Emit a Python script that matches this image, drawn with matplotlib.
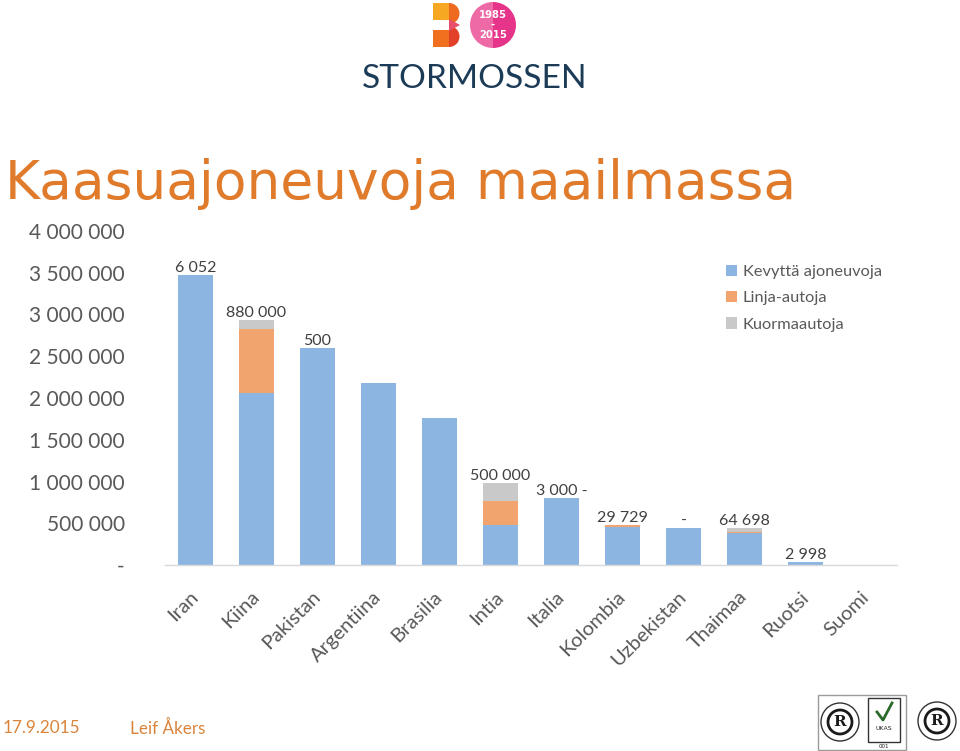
import matplotlib
matplotlib.use("Agg")
import matplotlib.pyplot as plt
from matplotlib.patches import Rectangle, Circle, Wedge, Polygon
import numpy as np

# ---------------- data ----------------
countries = ["Iran", "Kiina", "Pakistan", "Argentiina", "Brasilia", "Intia",
             "Italia", "Kolombia", "Uzbekistan", "Thaimaa", "Ruotsi", "Suomi"]
light_vehicles = [3470000, 2060000, 2600000, 2180000, 1760000, 480000,
                  800000, 455000, 440000, 380000, 36000, 2000]
buses = [0, 770000, 0, 0, 0, 290000, 0, 25000, 0, 15000, 0, 0]
trucks = [6052, 100000, 500, 0, 0, 210000, 3000, 0, 0, 45000, 0, 0]
bar_labels = ["6 052", "880 000", "500", "", "", "500 000", "3 000 -",
              "29 729", "-", "64 698", "2 998", ""]
series_names = ["Kevyttä ajoneuvoja", "Linja-autoja", "Kuormaautoja"]
y_ticks = [0, 500000, 1000000, 1500000, 2000000, 2500000, 3000000, 3500000, 4000000]
y_tick_labels = ["-", "500 000", "1 000 000", "1 500 000", "2 000 000",
                 "2 500 000", "3 000 000", "3 500 000", "4 000 000"]
title = "Kaasuajoneuvoja maailmassa"
footer_date = "17.9.2015"
footer_author = "Leif Åkers"

# ---------------- style ----------------
W, H = 960, 751
C_BLUE = "#8DB5E1"
C_ORANGE = "#F1A46E"
C_GRAY = "#C9C9C9"
C_TEXT = "#595959"
C_TITLE = "#E07B2C"
FONT = ["Lato", "DejaVu Sans"]

fig = plt.figure(figsize=(W / 100, H / 100), dpi=100)
fig.patch.set_facecolor("white")

# overlay in pixel coordinates for decorations
deco = fig.add_axes([0, 0, 1, 1], zorder=0)
deco.set_xlim(0, W)
deco.set_ylim(H, 0)
deco.axis("off")

ax = fig.add_axes([165 / W, 1 - 565 / H, (897 - 165) / W, (565 - 231) / H], zorder=1)
ax.patch.set_alpha(0)

x = np.arange(len(countries))
lv = np.array(light_vehicles, dtype=float)
bu = np.array(buses, dtype=float)
tr = np.array(trucks, dtype=float)
width = 0.57
ax.bar(x, lv, width, color=C_BLUE, label=series_names[0])
ax.bar(x, bu, width, bottom=lv, color=C_ORANGE, label=series_names[1])
ax.bar(x, tr, width, bottom=lv + bu, color=C_GRAY, label=series_names[2])

totals = lv + bu + tr
for xi, tot, lab in zip(x, totals, bar_labels):
    if lab:
        ax.annotate(lab, (xi, tot), xytext=(0, 0), textcoords="offset points",
                    ha="center", va="bottom", fontsize=11.5, color="#404040",
                    family=FONT)

ax.set_xlim(-0.5, len(countries) - 0.5)
ax.set_ylim(0, 4000000)
ax.set_yticks(y_ticks)
ax.set_yticklabels(y_tick_labels, fontsize=15, color=C_TEXT, family=FONT)
ax.set_xticks(x)
ax.set_xticklabels(countries, rotation=45, ha="right", va="center",
                   rotation_mode="anchor", fontsize=14.5, color=C_TEXT, family=FONT)
ax.tick_params(axis="both", length=0)
ax.tick_params(axis="y", pad=29)
ax.tick_params(axis="x", pad=21)
for s in ["top", "right", "left"]:
    ax.spines[s].set_visible(False)
ax.spines["bottom"].set_color("#D9D9D9")
ax.spines["bottom"].set_linewidth(1)

leg = ax.legend(loc="upper left", bbox_to_anchor=(711 / W, 1 - 250 / H),
                bbox_transform=fig.transFigure, frameon=False,
                prop={"family": FONT, "size": 11.8}, labelcolor=C_TEXT,
                handlelength=0.7, handleheight=0.7, handletextpad=0.35,
                labelspacing=0.72)

# ---------------- title ----------------
renderer = fig.canvas.get_renderer()

def fit(t, target_px):
    bb = t.get_window_extent(renderer=renderer)
    t.set_fontsize(t.get_fontsize() * target_px / bb.width)

t_title = fig.text(5 / W, 1 - 184 / H, title, fontsize=36, color=C_TITLE,
                   family="DejaVu Sans", ha="left", va="center")
fit(t_title, 792)

# ---------------- logo ----------------
deco.add_patch(Rectangle((433, 3), 16, 17, color="#F7A823", lw=0))
deco.add_patch(Wedge((449, 13.5), 10.5, -90, 90, color="#EE6A20", lw=0))
deco.add_patch(Rectangle((433, 30), 16, 17, color="#F07020", lw=0))
deco.add_patch(Wedge((449, 36.5), 10.5, -90, 90, color="#E3402A", lw=0))
deco.add_patch(Polygon([[449, 19], [460, 25], [449, 31]], color="#E84F6A", lw=0))
deco.add_patch(Wedge((493, 25), 23, 90, 270, color="#EE6AA6", lw=0))
deco.add_patch(Wedge((493, 25), 23, -90, 90, color="#E5348A", lw=0))
for txt, yy in [("1985", 15), ("-", 25), ("2015", 35)]:
    deco.text(493, yy, txt, color="white", fontsize=7.2, fontweight="bold",
              ha="center", va="center", family="DejaVu Sans")
t_logo = deco.text(474.5, 79, "STORMOSSEN", color="#1C3B57", fontsize=24,
                   ha="center", va="center", family=FONT)
fit(t_logo, 225)

# ---------------- footer ----------------
fig.text(3 / W, 1 - 728 / H, footer_date, fontsize=12.3, color="#D9843A",
         family=FONT, ha="left", va="center")
fig.text(130 / W, 1 - 728 / H, footer_author, fontsize=12.3, color="#D9843A",
         family=FONT, ha="left", va="center")

# certification seals
deco.add_patch(Rectangle((818, 695), 88, 55, fill=False, ec="#9A9A9A", lw=1))
for cx, cy in [(840, 722), (937, 721)]:
    deco.add_patch(Circle((cx, cy), 19, fill=False, ec="#333333", lw=1))
    deco.add_patch(Circle((cx, cy), 12, fill=False, ec="#1A1A1A", lw=2))
    deco.text(cx, cy, "R", fontsize=11, ha="center", va="center",
              color="#1A1A1A", family="DejaVu Serif", fontweight="bold")
deco.add_patch(Rectangle((868, 698), 32, 44, fill=False, ec="#333333", lw=1))
deco.plot([877, 883, 892], [712, 720, 703], color="#2a6a2a", lw=2)
deco.text(884, 728, "UKAS", fontsize=4.5, ha="center", va="center", color="#222222")
deco.text(884, 746, "001", fontsize=4, ha="center", va="center", color="#222222")

fig.savefig("out.png", dpi=100, facecolor="white")
